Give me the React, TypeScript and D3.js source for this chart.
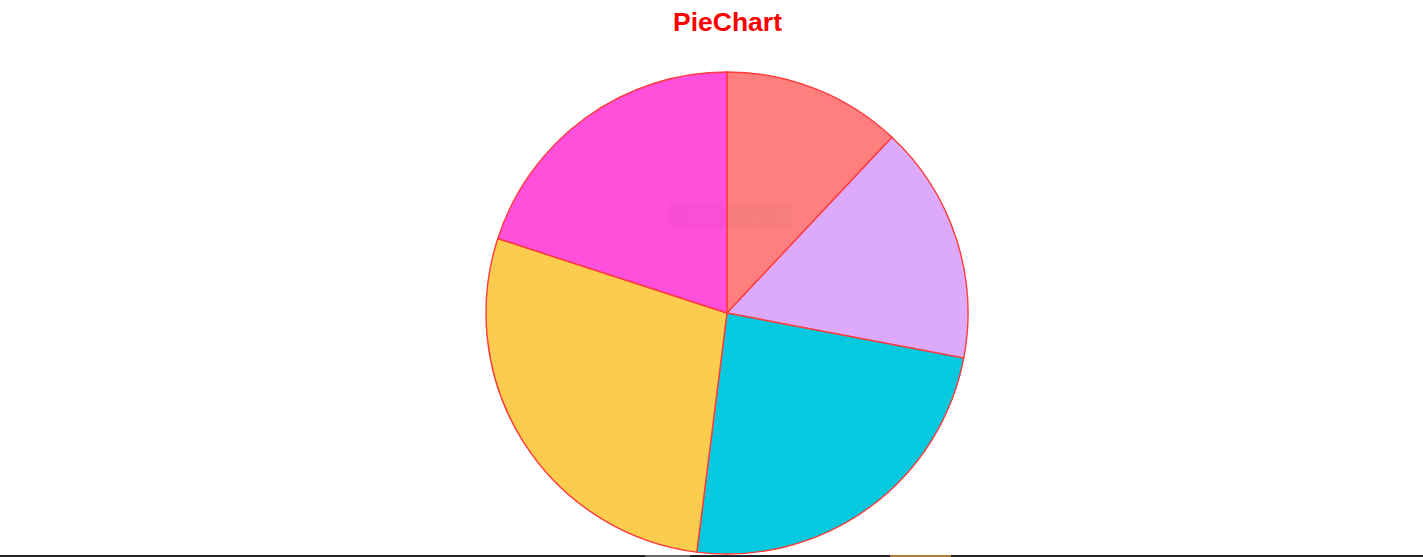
import React from "react";
import * as d3 from "d3";

const labels = ["A", "B", "C", "D", "E"];
const values = [30, 40, 60, 70, 50];
const colors = ["#ff7f7f", "#dda9fb", "#05c9df", "#fbcc4d", "#ff4fdb"];

const W = 1423;
const H = 557;

export default function App() {
  const cx = 727;
  const cy = 313;
  const r = 241;
  const pie = d3.pie<number>().sort(null).value((d) => d)(values);
  const arc = d3.arc<d3.PieArcDatum<number>>().innerRadius(0).outerRadius(r);
  return (
    <svg width={W} height={H} style={{ position: "absolute", left: 0, top: 0 }}>
      <text x={727.5} y={31} textAnchor="middle" fill="#ff0000" fontFamily="Liberation Sans, Arial, sans-serif" fontWeight="bold" fontSize={26.5}>
        PieChart
      </text>
      <g transform={`translate(${cx},${cy})`}>
        {pie.map((p, i) => (
          <path key={labels[i]} d={arc(p) || ""} fill={colors[i]} stroke="#ff3b3b" strokeWidth={1.4} />
        ))}
      </g>
      <g opacity={0.035}>
        <rect x={667} y={202} width={124} height={26} rx={5} fill="#555" />
        <rect x={673} y={208} width={14} height={14} fill="#333" />
        <text x={692} y={220} fontFamily="Liberation Sans, Arial, sans-serif" fontSize={14} fill="#222">undefined: {values[4]}</text>
      </g>
      <rect x={0} y={555} width={W} height={2} fill="#222" />
      <rect x={645} y={555} width={45} height={2} fill="#666" />
      <rect x={890} y={555} width={61} height={2} fill="#b07a3a" />
    </svg>
  );
}
